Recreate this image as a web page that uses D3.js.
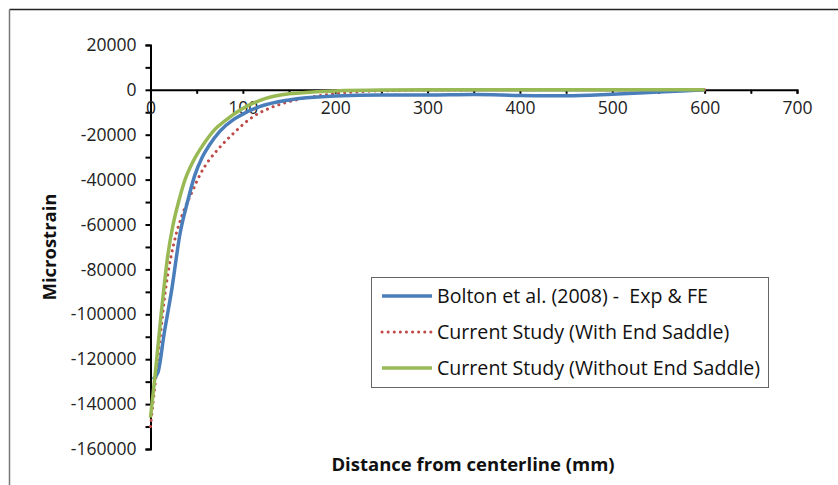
<!DOCTYPE html>
<html>
<head>
<meta charset="utf-8">
<script src="https://cdn.jsdelivr.net/npm/d3@7"></script>
<style>
  html, body { margin: 0; padding: 0; background: #fff; }
  svg { display: block; font-family: "Open Sans", "Liberation Sans", sans-serif; }
  .legend-label { white-space: pre; }
</style>
</head>
<body>
<svg id="chart" width="838" height="485"></svg>
<script>
// Strain along the pipe, measured from the centerline (mm)
const boltonX = [2.5, 8, 15, 23, 32, 40, 48, 56, 64, 75, 89, 97, 118, 150, 200, 250, 300, 350, 400, 450, 500, 550, 600];
const boltonY = [-129000, -126000, -108000, -89000, -64000, -50000, -38000, -30000, -24500, -18500, -13500, -11500, -7500, -4500, -2800, -2300, -2300, -2100, -2500, -2700, -2000, -1000, 0];

const withSaddleX = [0, 8, 17, 28, 35, 46, 54, 64, 72, 90, 111, 130, 151, 180, 205, 230, 260, 300, 400, 500, 600];
const withSaddleY = [-150000, -120000, -87000, -64000, -55000, -44600, -37500, -31000, -27000, -19300, -12000, -8000, -5200, -2800, -1500, -800, -350, -100, 0, 0, 0];

const withoutSaddleX = [0, 5, 12, 19, 24, 31, 37, 46, 57, 70, 82, 97, 118, 150, 200, 250, 300, 400, 500, 600];
const withoutSaddleY = [-146000, -127000, -98000, -73000, -61000, -49000, -40500, -32000, -24500, -17500, -13400, -9000, -4800, -1800, -500, -100, 0, 0, 0, 0];

const seriesNames = [
  "Bolton et al. (2008) -  Exp & FE",
  "Current Study (With End Saddle)",
  "Current Study (Without End Saddle)"
];

const xTickValues = [0, 100, 200, 300, 400, 500, 600, 700];
const yTickValues = [20000, 0, -20000, -40000, -60000, -80000, -100000, -120000, -140000, -160000];

const svg = d3.select("#chart");

// frame edges
svg.append("line").attr("x1", 9.5).attr("x2", 838).attr("y1", 9.5).attr("y2", 9.5)
  .attr("stroke", "#222").attr("stroke-width", 1.5);
svg.append("line").attr("x1", 9.5).attr("x2", 9.5).attr("y1", 9.5).attr("y2", 485)
  .attr("stroke", "#777").attr("stroke-width", 1.5);

const x = d3.scaleLinear().domain([0, 700]).range([150.5, 797]);
const y = d3.scaleLinear().domain([-160000, 20000]).range([449, 44.9]);

// y axis: ticks every 10000, labels every 20000
const yAxis = d3.axisLeft(y)
  .tickValues(d3.range(-160000, 20001, 10000))
  .tickSize(5)
  .tickFormat(d => (yTickValues.includes(d) ? String(d) : ""));
const gy = svg.append("g").attr("transform", `translate(${x(0)},0)`).call(yAxis);
gy.select(".domain").attr("stroke", "#000").attr("stroke-width", 2);
gy.selectAll(".tick line").attr("stroke", "#000").attr("stroke-width", 2);
gy.selectAll(".tick text").attr("font-size", 17.5).attr("fill", "#222").attr("x", -14)
  .attr("font-family", "'Open Sans', sans-serif");

// x axis sits on y = 0: ticks every 50, labels every 100
const xAxis = d3.axisBottom(x)
  .tickValues(d3.range(0, 701, 50))
  .tickSize(4)
  .tickFormat(d => (xTickValues.includes(d) ? String(d) : ""));
const gx = svg.append("g").attr("transform", `translate(0,${y(0)})`).call(xAxis);
gx.select(".domain").attr("stroke", "#000").attr("stroke-width", 2);
gx.selectAll(".tick line").attr("stroke", "#000").attr("stroke-width", 2);
gx.selectAll(".tick text").attr("font-size", 17.5).attr("fill", "#222").attr("y", 12)
  .attr("font-family", "'Open Sans', sans-serif");

// curves
const line = d3.line().x(d => x(d[0])).y(d => y(d[1])).curve(d3.curveMonotoneX);
const zipPts = (xs, ys) => xs.map((v, i) => [v, ys[i]]);

svg.append("path").datum(zipPts(withSaddleX, withSaddleY))
  .attr("d", line).attr("fill", "none")
  .attr("stroke", "#be4b48").attr("stroke-width", 3)
  .attr("stroke-dasharray", "0.1 6").attr("stroke-linecap", "round");

svg.append("path").datum(zipPts(boltonX, boltonY))
  .attr("d", line).attr("fill", "none")
  .attr("stroke", "#4a7ebb").attr("stroke-width", 3.5);

svg.append("path").datum(zipPts(withoutSaddleX, withoutSaddleY))
  .attr("d", line).attr("fill", "none")
  .attr("stroke", "#98b954").attr("stroke-width", 3.5);

// axis titles
svg.append("text").attr("x", 473).attr("y", 471).attr("text-anchor", "middle")
  .attr("font-size", 18.5).attr("font-weight", "bold").attr("fill", "#111")
  .text("Distance from centerline (mm)");
svg.append("text").attr("transform", "translate(56,247) rotate(-90)")
  .attr("text-anchor", "middle").attr("font-size", 18.5).attr("font-weight", "bold").attr("fill", "#111")
  .text("Microstrain");

// legend
const legend = svg.append("g");
legend.append("rect").attr("x", 371.5).attr("y", 277.5).attr("width", 397).attr("height", 110)
  .attr("fill", "#fff").attr("stroke", "#666").attr("stroke-width", 1);
const legendStyles = [
  { color: "#4a7ebb", dash: null, width: 3.5 },
  { color: "#be4b48", dash: "0.1 6", width: 3 },
  { color: "#98b954", dash: null, width: 3.5 }
];
const rowY = d3.scalePoint().domain(seriesNames).range([296, 368]);
seriesNames.forEach((name, i) => {
  const cy = rowY(name);
  const s = legendStyles[i];
  const ln = legend.append("line").attr("x1", 382).attr("x2", 432).attr("y1", cy).attr("y2", cy)
    .attr("stroke", s.color).attr("stroke-width", s.width);
  if (s.dash) ln.attr("stroke-dasharray", s.dash).attr("stroke-linecap", "round");
  legend.append("text").attr("class", "legend-label").attr("x", 437).attr("y", cy).attr("dy", "0.35em")
    .attr("font-size", 19.6).attr("fill", "#111").text(name);
});
</script>
</body>
</html>
